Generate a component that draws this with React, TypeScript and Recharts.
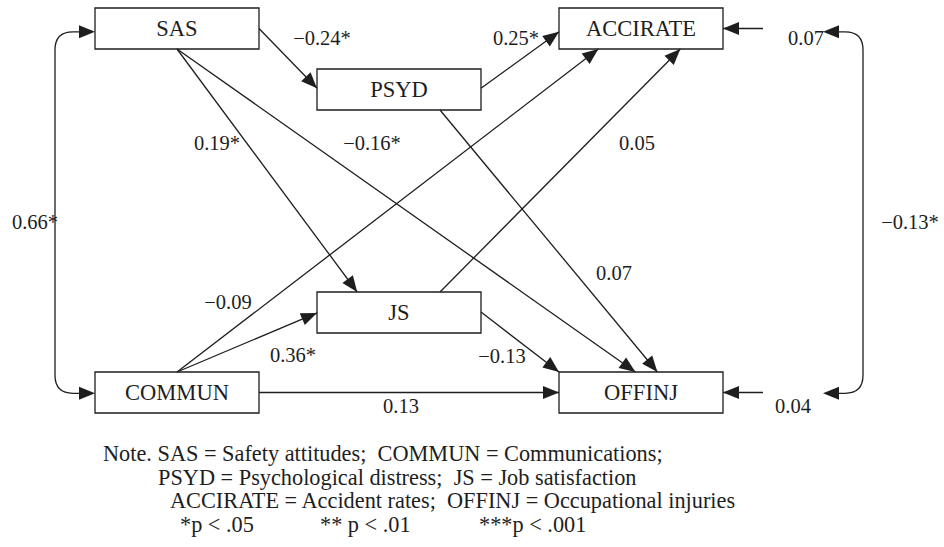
import React from 'react';
import {
  ScatterChart,
  Scatter,
  XAxis,
  YAxis,
  ReferenceArea,
  ReferenceLine,
} from 'recharts';

// variables in the path model
const nodeNames = ['SAS', 'PSYD', 'ACCIRATE', 'JS', 'COMMUN', 'OFFINJ'];
const nodeLeft = [95, 317, 559, 317, 95, 559];
const nodeTop = [8, 69, 8, 292, 372, 372];
const NODE_W = 164;
const NODE_H = 41;

// structural paths: from -> to, with the standardized coefficient
const pathFrom = ['SAS', 'SAS', 'SAS', 'PSYD', 'PSYD', 'COMMUN', 'JS', 'COMMUN', 'JS', 'COMMUN'];
const pathTo = ['PSYD', 'JS', 'OFFINJ', 'ACCIRATE', 'OFFINJ', 'ACCIRATE', 'ACCIRATE', 'JS', 'OFFINJ', 'OFFINJ'];
const pathCoef = ['\u22120.24*', '0.19*', '\u22120.16*', '0.25*', '0.07', '\u22120.09', '0.05', '0.36*', '\u22120.13', '0.13'];
// where each path leaves / enters its box, as fractions of the box
const pathStart = [[1, 0.5], [0.5, 1], [0.5, 1], [1, 0.47], [0.75, 1], [0.5, 0], [0.75, 0], [0.5, 0], [1, 0.49], [1, 0.5]];
const pathEnd = [[0, 0.47], [0.245, 0], [0.466, 0], [0, 0.58], [0.6, 0], [0.24, 1], [0.74, 1], [0, 0.51], [0, 0], [0, 0.5]];
const coefX = [322, 217, 372, 516, 614, 228, 637, 293, 502, 401];
const coefY = [38, 143, 143, 38, 273, 302, 143, 355, 356, 406];

// residuals of the outcomes
const residNames = ['ACCIRATE', 'OFFINJ'];
const residValue = ['0.07', '0.04'];
const residX = [806, 793];
const residY = [38, 406];

// correlations (curved two-headed arrows)
const corrPairs = [['SAS', 'COMMUN'], ['ACCIRATE', 'OFFINJ']];
const corrValue = ['0.66*', '\u22120.13*'];
const corrX = [35, 910];
const corrY = [222, 222];

const noteText = [
  'Note. SAS = Safety attitudes;  COMMUN = Communications;',
  'PSYD = Psychological distress;  JS = Job satisfaction',
  'ACCIRATE = Accident rates;  OFFINJ = Occupational injuries',
  '*p < .05',
  '** p < .01',
  '***p < .001',
];
const noteX = [103, 158, 170, 180, 320, 479];
const noteY = [461, 485, 508, 532, 532, 532];

const FONT = '"Liberation Serif", "Times New Roman", serif';
const INK = '#1e1e1e';

const nodeIndex = (name: string) => nodeNames.indexOf(name);
const anchor = (name: string, f: number[]) => {
  const i = nodeIndex(name);
  return { x: nodeLeft[i] + f[0] * NODE_W, y: nodeTop[i] + f[1] * NODE_H };
};

const arrowHead = (x1: number, y1: number, x2: number, y2: number) => {
  const a = Math.atan2(y2 - y1, x2 - x1);
  const len = 16;
  const hw = 6.5;
  const bx = x2 - len * Math.cos(a);
  const by = y2 - len * Math.sin(a);
  const px = -Math.sin(a) * hw;
  const py = Math.cos(a) * hw;
  return `${x2},${y2} ${bx + px},${by + py} ${bx - px},${by - py}`;
};

const ArrowLine = (props: any) => {
  const { x1, y1, x2, y2 } = props;
  return (
    <g>
      <line x1={x1} y1={y1} x2={x2} y2={y2} stroke={INK} strokeWidth={1.3} />
      <polygon points={arrowHead(x1, y1, x2, y2)} fill={INK} />
    </g>
  );
};

// vertical run of a correlation bracket, side tells which way the heads point
const Bracket = (side: number) => (props: any) => {
  const { x1, y1, x2, y2 } = props;
  const bulge = 40;
  const r = 18;
  const vx = x1 - side * bulge;
  const d = `M ${x1 - side * 15} ${y1} L ${vx + side * r} ${y1} Q ${vx} ${y1} ${vx} ${y1 + r} L ${vx} ${y2 - r} Q ${vx} ${y2} ${vx + side * r} ${y2} L ${x2 - side * 15} ${y2}`;
  return (
    <g>
      <path d={d} fill="none" stroke={INK} strokeWidth={1.3} />
      <polygon points={arrowHead(x1 - side * 20, y1, x1, y1)} fill={INK} />
      <polygon points={arrowHead(x2 - side * 20, y2, x2, y2)} fill={INK} />
    </g>
  );
};

const coefPoints = pathCoef.map((t, i) => ({ x: coefX[i], y: coefY[i], text: t }));
const residPoints = residValue.map((t, i) => ({ x: residX[i], y: residY[i], text: t }));
const corrPoints = corrValue.map((t, i) => ({ x: corrX[i], y: corrY[i], text: t }));
const notePoints = noteText.map((t, i) => ({ x: noteX[i], y: noteY[i], text: t }));

const CenterText = (props: any) => (
  <text
    x={props.cx}
    y={props.cy}
    textAnchor="middle"
    dominantBaseline="central"
    fontFamily={FONT}
    fontSize={20.5}
    fill={INK}
  >
    {props.payload.text}
  </text>
);

const NoteText = (props: any) => (
  <text
    x={props.cx}
    y={props.cy}
    fontFamily={FONT}
    fontSize={22.3}
    fill={INK}
    style={{ whiteSpace: 'pre' }}
  >
    {props.payload.text}
  </text>
);

export default function App() {
  return (
    <div style={{ position: 'absolute', left: 0, top: 0, background: '#fff' }}>
      <ScatterChart width={944} height={547} margin={{ top: 0, right: 0, bottom: 0, left: 0 }}>
        <XAxis type="number" dataKey="x" domain={[0, 944]} hide allowDataOverflow />
        <YAxis type="number" dataKey="y" domain={[0, 547]} reversed hide allowDataOverflow />

        {pathFrom.map((from, i) => {
          const s = anchor(from, pathStart[i]);
          const e = anchor(pathTo[i], pathEnd[i]);
          return (
            <ReferenceLine key={`p${i}`} segment={[s, e]} shape={ArrowLine} ifOverflow="visible" />
          );
        })}

        {residNames.map((name, i) => {
          const e = anchor(name, [1, 0.5]);
          return (
            <ReferenceLine
              key={`r${i}`}
              segment={[{ x: e.x + 40, y: e.y }, e]}
              shape={ArrowLine}
              ifOverflow="visible"
            />
          );
        })}

        {corrPairs.map(([a, b], i) => {
          const left = i === 0;
          const ia = nodeIndex(a);
          const ib = nodeIndex(b);
          const xa = left ? nodeLeft[ia] : nodeLeft[ia] + NODE_W + 100;
          const xb = left ? nodeLeft[ib] : nodeLeft[ib] + NODE_W + 100;
          return (
            <ReferenceLine
              key={`c${i}`}
              segment={[
                { x: xa, y: nodeTop[ia] + NODE_H * 0.58 },
                { x: xb, y: nodeTop[ib] + NODE_H * 0.52 },
              ]}
              shape={Bracket(left ? 1 : -1)}
              ifOverflow="visible"
            />
          );
        })}

        {nodeNames.map((name, i) => (
          <ReferenceArea
            key={name}
            x1={nodeLeft[i]}
            x2={nodeLeft[i] + NODE_W}
            y1={nodeTop[i]}
            y2={nodeTop[i] + NODE_H}
            fill="#fff"
            fillOpacity={1}
            stroke={INK}
            strokeWidth={1.3}
            ifOverflow="visible"
            label={{ value: name, position: 'center', fontSize: 22.5, fill: INK, fontFamily: FONT }}
          />
        ))}

        <Scatter data={coefPoints} shape={CenterText} isAnimationActive={false} />
        <Scatter data={residPoints} shape={CenterText} isAnimationActive={false} />
        <Scatter data={corrPoints} shape={CenterText} isAnimationActive={false} />
        <Scatter data={notePoints} shape={NoteText} isAnimationActive={false} />
      </ScatterChart>
    </div>
  );
}
